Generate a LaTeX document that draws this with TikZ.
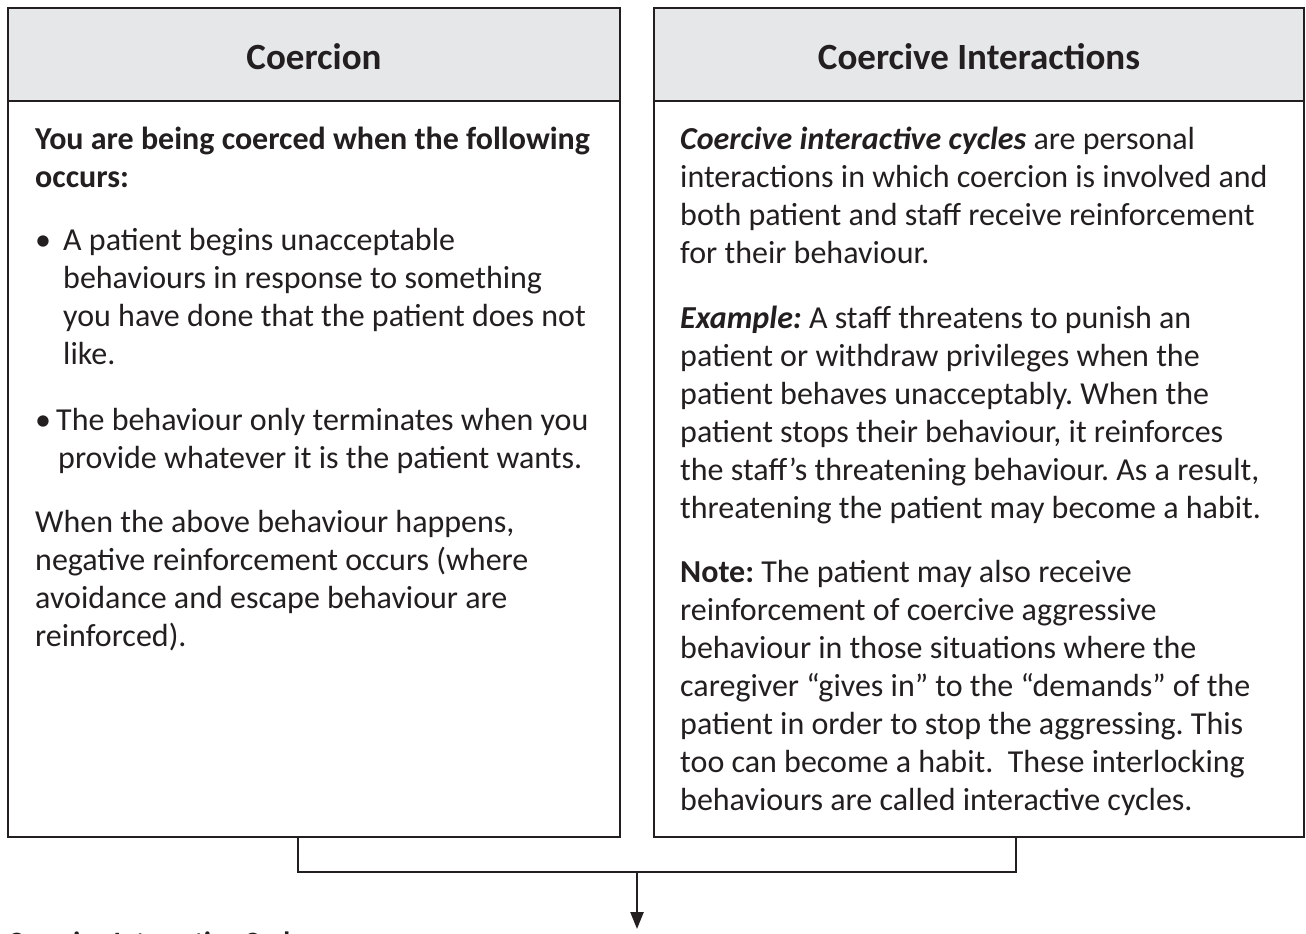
\documentclass[tikz,border=0pt]{standalone}
\usepackage{fontspec}
\setmainfont{Carlito}
\usetikzlibrary{arrows.meta}
\definecolor{ink}{HTML}{231F20}
\definecolor{headfill}{HTML}{E6E7E8}
\frenchspacing
\tikzset{
  frame/.style={draw=ink, line width=2.4pt},
  headbox/.style={frame, fill=headfill},
  headtext/.style={font=\fontsize{37}{44}\selectfont\bfseries, text=ink, inner sep=0pt},
  bodytext/.style={font=\fontsize{32}{38}\selectfont, text=ink, inner sep=0pt, align=left, anchor=north west},
  link/.style={draw=ink, line width=2.4pt},
  flow/.style={link, -{Triangle[length=17pt,width=13pt]}}
}
% place a paragraph so that its first baseline sits at the given y
\newcommand{\parat}[4]{\node[bodytext] (#1) at (#2,#3-26.6) {\strut #4};}
\begin{document}
\begin{tikzpicture}[x=1pt,y=-1pt]
\useasboundingbox (0,0) rectangle (1306,934);
\clip (0,0) rectangle (1306,934);

% left panel
\draw[frame, fill=white] (8,101) rectangle (620,837);
\draw[headbox] (8,8) rectangle (620,101);
\node[headtext] (lh) at (314,57) {Coercion};
\coordinate (lbot) at (298,837);

% right panel
\draw[frame, fill=white] (654,101) rectangle (1304,837);
\draw[headbox] (654,8) rectangle (1304,101);
\node[headtext] (rh) at (979,57) {Coercive Interactions};
\coordinate (rbot) at (1016,837);

% left panel text
\parat{l1}{35}{149}{\bfseries You are being coerced when the following\\ \bfseries occurs:}
\parat{b1}{35}{250}{•}
\parat{l2}{63}{250}{A patient begins unacceptable\\behaviours in response to something\\you have done that the patient does not\\like.}
\parat{b2}{35}{430}{•}
\parat{l3}{56}{430}{The behaviour only terminates when you\\\hspace*{2pt}provide whatever it is the patient wants.}
\parat{l4}{35}{532}{When the above behaviour happens,\\negative reinforcement occurs (where\\avoidance and escape behaviour are\\reinforced).}

% right panel text
\parat{r1}{680}{149}{\textbf{\textit{Coercive interactive cycles}} are personal\\interactions in which coercion is involved and\\both patient and staff receive reinforcement\\for their behaviour.}
\parat{r2}{680}{328}{\textbf{\textit{Example:}} A staff threatens to punish an\\patient or withdraw privileges when the\\patient behaves unacceptably. When the\\patient stops their behaviour, it reinforces\\the staff’s threatening behaviour. As a result,\\threatening the patient may become a habit.}
\parat{r3}{680}{582}{\textbf{Note:} The patient may also receive\\reinforcement of coercive aggressive\\behaviour in those situations where the\\caregiver “gives in” to the “demands” of the\\patient in order to stop the aggressing. This\\too can become a habit.\ \ These interlocking\\behaviours are called interactive cycles.}

% joining connector and arrow
\coordinate (jl) at (298,872);
\coordinate (jr) at (1016,872);
\coordinate (jm) at (637,872);
\coordinate (tip) at (637,929);
\draw[link] (lbot) -- (jl) -- (jr) -- (rbot);
\draw[flow] (jm) -- (tip);

% next heading, running off the lower edge
\node[headtext, font=\fontsize{28}{34}\selectfont\bfseries, anchor=base west] (nx) at (8,951) {Coercive Interactive Cycles};
\end{tikzpicture}
\end{document}
